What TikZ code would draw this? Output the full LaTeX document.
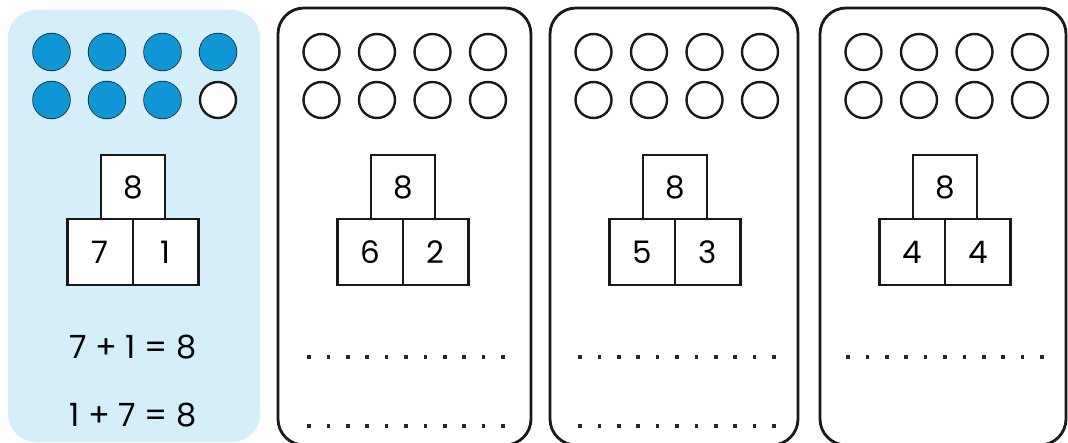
\documentclass[tikz,border=0pt]{standalone}
\usepackage{fontspec}
\setmainfont{Poppins}
\definecolor{panelblue}{HTML}{D4EEFA}
\definecolor{dotblue}{HTML}{0E96D6}
\begin{document}
\begin{tikzpicture}[x=1pt,y=-1pt,
  panel/.style={draw=black!90,line width=2.8pt,rounded corners=26pt},
  bluepanel/.style={fill=panelblue,rounded corners=28pt},
  counter/.style={circle,draw=black!90,line width=2.4pt,fill=white,minimum size=36pt,inner sep=0pt},
  fullcounter/.style={circle,fill=dotblue,minimum size=37pt,inner sep=0pt},
  numbox/.style={draw=black!90,line width=2.8pt,fill=white,minimum width=64pt,minimum height=64pt,inner sep=0pt,font=\fontsize{31}{34}\selectfont},
  eqn/.style={font=\fontsize{32}{36}\selectfont,inner sep=0pt},
  dotmark/.style={fill=black!85,minimum size=3.5pt,inner sep=0pt}]
\useasboundingbox (0,0) rectangle (1068,443);
\fill[white] (0,0) rectangle (1068,443);
% panels
\fill[bluepanel] (8,10) rectangle (260,442);
\draw[panel] (278,8) rectangle (531,445);
\draw[panel] (550,8) rectangle (798,445);
\draw[panel] (820,8) rectangle (1066,445);
% counters
\foreach \p/\cx in {1/133,2/403,3/675,4/945}{
  \foreach \i/\dx in {1/-81.5,2/-26,3/29.5,4/85}{
    \foreach \r/\cy in {1/52,2/100}{
      \node[counter] (c\p-\r-\i) at (\cx+\dx,\cy) {};
    }
  }
}
\foreach \i/\dx in {1/-81.5,2/-26,3/29.5,4/85}{
  \node[fullcounter] (f1-\i) at (133+\dx,52) {};
}
\foreach \i/\dx in {1/-81.5,2/-26,3/29.5}{
  \node[fullcounter] (f2-\i) at (133+\dx,100) {};
}
% number bonds
\foreach \p/\cx/\a/\b in {1/133/7/1,2/403/6/2,3/675/5/3,4/945/4/4}{
  \node[numbox] (top\p) at (\cx,187) {8};
  \node[numbox,minimum width=65.5pt,minimum height=66pt] (left\p) at (\cx-32.75,252) {\a};
  \node[numbox,minimum width=65.5pt,minimum height=66pt] (right\p) at (\cx+32.75,252) {\b};
}
% equations
\node[eqn] (eq1) at (133,347) {7 + 1 = 8};
\node[eqn] (eq2) at (133,415) {1 + 7 = 8};
% dotted answer lines
\foreach \p/\x in {2/309,3/580,4/848}{
  \foreach \k in {0,...,10}{
    \node[dotmark] (d\p-a-\k) at (\x+\k*19.4,357) {};
  }
}
\foreach \p/\x in {2/309,3/580}{
  \foreach \k in {0,...,10}{
    \node[dotmark] (d\p-b-\k) at (\x+\k*19.4,426) {};
  }
}
\end{tikzpicture}
\end{document}
